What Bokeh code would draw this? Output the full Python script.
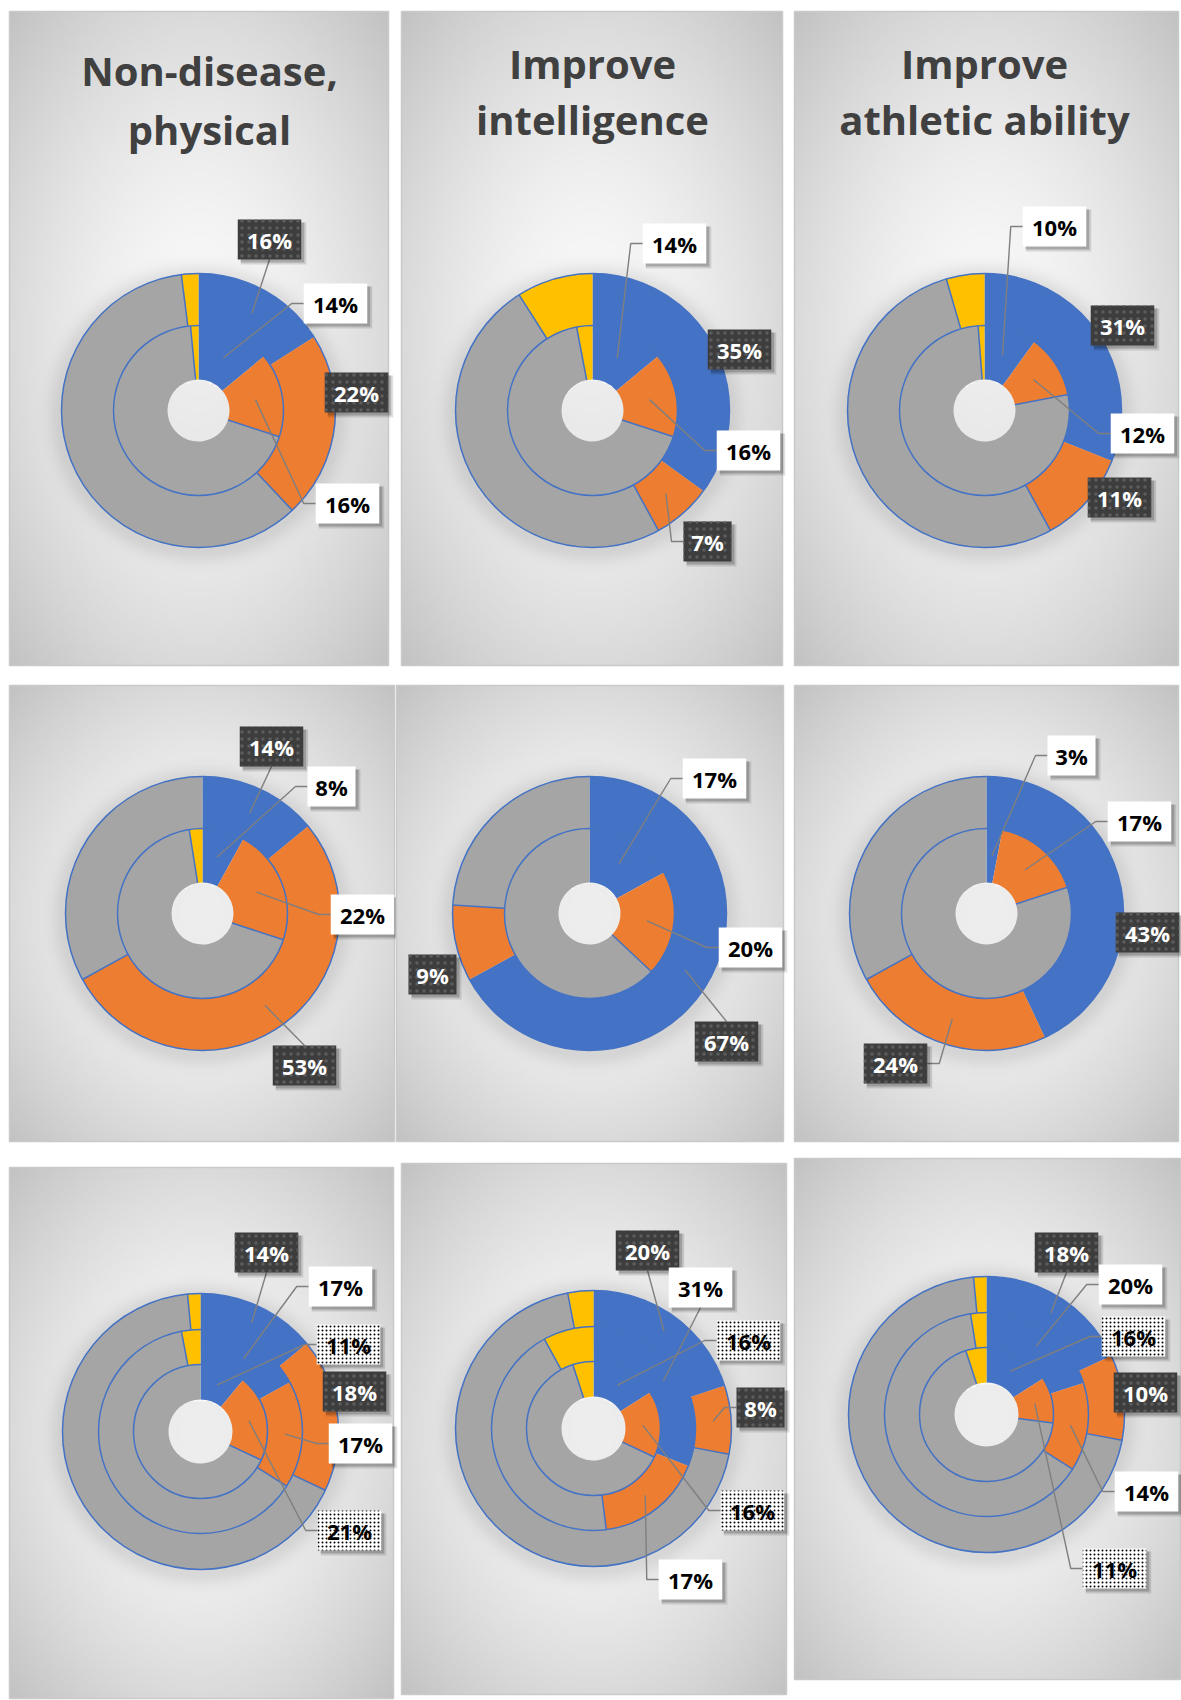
import numpy as np
from bokeh.plotting import figure
from bokeh.models import Range1d
from bokeh.core.properties import value
from bokeh.embed import file_html
from bokeh.resources import INLINE

W, H = 1181, 1700

# ---------------- data (percent shares: blue, orange, gray, yellow) ----------------
slice_names = ["blue", "orange", "gray", "yellow"]
# rings are listed from the innermost to the outermost
nd_physical_rings = [[14, 16, 68.5, 1.5], [16, 22, 60, 2]]
intelligence_rings = [[14, 16, 67, 3], [35, 7, 49, 9]]
athletic_rings = [[10, 12, 76.8, 1.2], [31, 11, 53.5, 4.5]]
row2_left_rings = [[8, 22, 67.5, 2.5], [14, 53, 33, 0]]
row2_mid_rings = [[17, 20, 63, 0], [67, 9, 24, 0]]
row2_right_rings = [[3, 17, 80, 0], [43, 24, 33, 0]]
row3_left_rings = [[11, 21, 68, 0], [17, 17, 63, 3], [14, 18, 66.5, 1.5]]
row3_mid_rings = [[16, 16, 63, 5], [31, 17, 44, 8], [20, 8, 69, 3]]
row3_right_rings = [[16, 11, 68, 5], [20, 14, 63.5, 2.5], [18, 10, 70.5, 1.5]]

title_lines = [["Non-disease,", "physical"], ["Improve", "intelligence"], ["Improve", "athletic ability"]]

# ---------------- layout / style ----------------
COLORS = ["#4472C4", "#ED7D31", "#A5A5A5", "#FFC000"]
EDGE = "#4472C4"
R2 = [31, 85, 137]
R3 = [32, 67, 102, 138]
TITLE_SHIFT = -15

# label spec: (ring, slice, box centre x, box centre y, style, leader attach)
panels = [
    dict(rings=nd_physical_rings, frame=(9, 11, 388, 665), c=(198, 410), radii=R2,
         title=(0, 209, (85, 144)),
         labels=[(1, 0, 269, 239, "dark", "B"), (0, 0, 335, 303, "white", "L"),
                 (1, 1, 356, 392, "dark", ""), (0, 1, 347, 503, "white", "L")]),
    dict(rings=intelligence_rings, frame=(401, 11, 782, 665), c=(592, 410), radii=R2,
         title=(1, 592, (78, 134)),
         labels=[(0, 0, 674, 243, "white", "L"), (1, 0, 739, 349, "dark", ""),
                 (0, 1, 748, 450, "white", "L"), (1, 1, 707, 541, "dark", "L")]),
    dict(rings=athletic_rings, frame=(794, 11, 1178, 665), c=(984, 410), radii=R2,
         title=(2, 984, (78, 134)),
         labels=[(0, 0, 1054, 226, "white", "L"), (1, 0, 1122, 325, "dark", ""),
                 (0, 1, 1142, 433, "white", "L"), (1, 1, 1119, 497, "dark", "")]),
    dict(rings=row2_left_rings, frame=(9, 685, 394, 1141), c=(202, 913), radii=R2, title=None,
         labels=[(1, 0, 271, 746, "dark", "B"), (0, 0, 331, 786, "white", "L"),
                 (0, 1, 362, 914, "white", "L"), (1, 1, 304, 1065, "dark", "T")]),
    dict(rings=row2_mid_rings, frame=(396, 685, 783, 1141), c=(589, 913), radii=R2, title=None,
         labels=[(0, 0, 714, 778, "white", "L"), (0, 1, 750, 947, "white", "L"),
                 (1, 1, 432, 974, "dark", ""), (1, 0, 726, 1041, "dark", "T")]),
    dict(rings=row2_right_rings, frame=(794, 685, 1178, 1141), c=(986, 913), radii=R2, title=None,
         labels=[(0, 0, 1071, 755, "white", "L"), (0, 1, 1139, 821, "white", "L"),
                 (1, 0, 1147, 932, "dark", ""), (1, 1, 895, 1063, "dark", "R")]),
    dict(rings=row3_left_rings, frame=(9, 1167, 393, 1698), c=(200, 1431), radii=R3, title=None,
         labels=[(2, 0, 266, 1252, "dark", "B"), (1, 0, 340, 1286, "white", "L"),
                 (0, 0, 348, 1344, "dot", "L"), (2, 1, 354, 1391, "dark", ""),
                 (1, 1, 360, 1443, "white", "L"), (0, 1, 349, 1530, "dot", "L")]),
    dict(rings=row3_mid_rings, frame=(401, 1163, 786, 1694), c=(593, 1428), radii=R3, title=None,
         labels=[(2, 0, 647, 1250, "dark", "B"), (1, 0, 700, 1287, "white", "B"),
                 (0, 0, 748, 1340, "dot", "L"), (2, 1, 760, 1407, "dark", "L"),
                 (0, 1, 752, 1510, "dot", "L"), (1, 1, 690, 1579, "white", "L")]),
    dict(rings=row3_right_rings, frame=(794, 1158, 1180, 1679), c=(986, 1414), radii=R3, title=None,
         labels=[(2, 0, 1066, 1252, "dark", "B"), (1, 0, 1130, 1284, "white", "L"),
                 (0, 0, 1133, 1336, "dot", "L"), (2, 1, 1145, 1392, "dark", ""),
                 (1, 1, 1146, 1491, "white", "L"), (0, 1, 1114, 1568, "dot", "L")]),
]

p = figure(width=W, height=H, x_range=Range1d(0, W), y_range=Range1d(0, H),
           output_backend="svg", toolbar_location=None, x_axis_type=None, y_axis_type=None,
           min_border=0)
p.outline_line_color = None
p.background_fill_color = "white"
p.border_fill_color = "white"


def Y(y):
    return H - y


def panel_background(frame, c, R, hole):
    x0, y0, x1, y1 = frame
    f = 3
    w = int((x1 - x0) / f)
    h = int((y1 - y0) / f)
    xs = x0 + (np.arange(w) + 0.5) * (x1 - x0) / w
    ys = y0 + (np.arange(h) + 0.5) * (y1 - y0) / h
    X, Yg = np.meshgrid(xs, ys)
    pcx, pcy = (x0 + x1) / 2, (y0 + y1) / 2
    d = np.sqrt(((X - pcx) / ((x1 - x0) / 2)) ** 2 + ((Yg - pcy) / ((y1 - y0) / 2)) ** 2) / np.sqrt(2)
    g = 250 - 56 * d ** 1.6
    r = np.hypot(X - c[0], Yg - (c[1] + 3))
    shadow = 22 * np.exp(-(np.maximum(r - R, 0) / 13) ** 2) * (r > R * 0.6)
    shadow = shadow + 12 * (r < hole + 2)
    g = np.clip(g - shadow, 0, 255).astype(np.uint8)
    img = np.empty((h, w), dtype=np.uint32)
    view = img.view(dtype=np.uint8).reshape((h, w, 4))
    view[..., 0] = g
    view[..., 1] = g
    view[..., 2] = g
    view[..., 3] = 255
    return img[::-1].copy()


TWO_PI = 2 * np.pi

for pn in panels:
    x0, y0, x1, y1 = pn["frame"]
    cx, cy = pn["c"]
    radii = pn["radii"]
    img = panel_background(pn["frame"], pn["c"], radii[-1], radii[0])
    p.image_rgba(image=[img], x=x0, y=Y(y1), dw=x1 - x0, dh=y1 - y0)
    p.rect(x=(x0 + x1) / 2, y=Y((y0 + y1) / 2), width=x1 - x0, height=y1 - y0,
           fill_color=None, line_color="#c9c9c9", line_width=1.5)

    # wedges
    wx, wy, ri, ro, sa, ea, col = [], [], [], [], [], [], []
    sx0, sy0, sx1, sy1 = [], [], [], []
    for k, ring in enumerate(pn["rings"]):
        cum = np.concatenate([[0], np.cumsum(ring)]) / 100.0
        for j, v in enumerate(ring):
            if v <= 0:
                continue
            wx.append(cx); wy.append(Y(cy))
            ri.append(radii[k]); ro.append(radii[k + 1])
            sa.append(np.pi / 2 - cum[j + 1] * TWO_PI)
            ea.append(np.pi / 2 - cum[j] * TWO_PI)
            col.append(COLORS[j])
        # boundaries not touching a blue slice
        present = [j for j, v in enumerate(ring) if v > 0]
        for idx, j in enumerate(present):
            nxt = present[(idx + 1) % len(present)]
            if j == 0 or nxt == 0:
                continue
            a = np.pi / 2 - cum[j + 1] * TWO_PI
            sx0.append(cx + radii[k] * np.cos(a)); sy0.append(Y(cy) + radii[k] * np.sin(a))
            sx1.append(cx + radii[k + 1] * np.cos(a)); sy1.append(Y(cy) + radii[k + 1] * np.sin(a))
    p.annular_wedge(x=wx, y=wy, inner_radius=ri, outer_radius=ro, start_angle=sa, end_angle=ea,
                    fill_color=col, line_color=None, direction="anticlock")
    p.segment(x0=sx0, y0=sy0, x1=sx1, y1=sy1, line_color=EDGE, line_width=1.5)
    p.circle(x=[cx] * (len(radii) - 1), y=[Y(cy)] * (len(radii) - 1), radius=radii[1:],
             fill_color=None, line_color=EDGE, line_width=1.5)

    # title
    if pn["title"] is not None:
        ti, tx, tys = pn["title"]
        p.text(x=[tx, tx], y=[Y(tys[0] + TITLE_SHIFT), Y(tys[1] + TITLE_SHIFT)], text=title_lines[ti],
               text_font=value("Open Sans"), text_font_style="bold", text_font_size="40px",
               text_color="#404040", text_align="center", text_baseline="alphabetic")

    # labels
    lxs, lys = [], []
    boxes = {"dark": ([], [], [], []), "white": ([], [], [], []), "dot": ([], [], [], [])}
    texts = {"dark": ([], [], []), "white": ([], [], []), "dot": ([], [], [])}
    for (k, j, bx, by, style, att) in pn["labels"]:
        ring = pn["rings"][k]
        v = ring[j]
        txt = f"{v:g}%"
        bw = 17 + 15.5 * len(txt)
        bh = 40
        cum = np.concatenate([[0], np.cumsum(ring)]) / 100.0
        mid = (cum[j] + cum[j + 1]) / 2 * TWO_PI
        rm = (radii[k] + radii[k + 1]) / 2
        ax = cx + rm * np.sin(mid)
        ay = cy - rm * np.cos(mid)
        pts = None
        if att == "L":
            pts = [(ax, ay), (bx - bw / 2 - 12, by), (bx - bw / 2, by)]
        elif att == "R":
            pts = [(ax, ay), (bx + bw / 2 + 12, by), (bx + bw / 2, by)]
        elif att == "B":
            pts = [(ax, ay), (bx, by + bh / 2)]
        elif att == "T":
            pts = [(ax, ay), (bx, by - bh / 2)]
        if pts:
            lxs.append([q[0] for q in pts])
            lys.append([Y(q[1]) for q in pts])
        bl = boxes[style]
        bl[0].append(bx); bl[1].append(Y(by)); bl[2].append(bw); bl[3].append(bh)
        tl = texts[style]
        tl[0].append(bx); tl[1].append(Y(by)); tl[2].append(txt)

    if lxs:
        p.multi_line(xs=lxs, ys=lys, line_color="#7f7f7f", line_width=1.4)

    for style, (bxs, bys, bws, bhs) in boxes.items():
        if not bxs:
            continue
        # soft shadow
        p.rect(x=[b + 4 for b in bxs], y=[b - 4 for b in bys], width=[w + 2 for w in bws],
               height=[h + 2 for h in bhs], fill_color="#000000", fill_alpha=0.12, line_color=None)
        p.rect(x=[b + 3 for b in bxs], y=[b - 3 for b in bys], width=bws, height=bhs,
               fill_color="#000000", fill_alpha=0.2, line_color=None)
        if style == "dark":
            p.rect(x=bxs, y=bys, width=bws, height=bhs, fill_color="#3d3d3d", line_color=None,
                   hatch_pattern="dot", hatch_color="#5c5c5c", hatch_scale=7, hatch_weight=1.2)
        elif style == "white":
            p.rect(x=bxs, y=bys, width=bws, height=bhs, fill_color="white", line_color=None)
        else:
            p.rect(x=bxs, y=bys, width=bws, height=bhs, fill_color="white", line_color=None,
                   hatch_pattern="dot", hatch_color="#000000", hatch_scale=4, hatch_weight=2.2)

    for style, (txs, tys, tts) in texts.items():
        if not txs:
            continue
        p.text(x=txs, y=tys, text=tts, text_font=value("Open Sans"), text_font_style="bold",
               text_font_size="22px", text_color="white" if style == "dark" else "black",
               text_align="center", text_baseline="middle")

open("out.html", "w").write(file_html(p, INLINE))
